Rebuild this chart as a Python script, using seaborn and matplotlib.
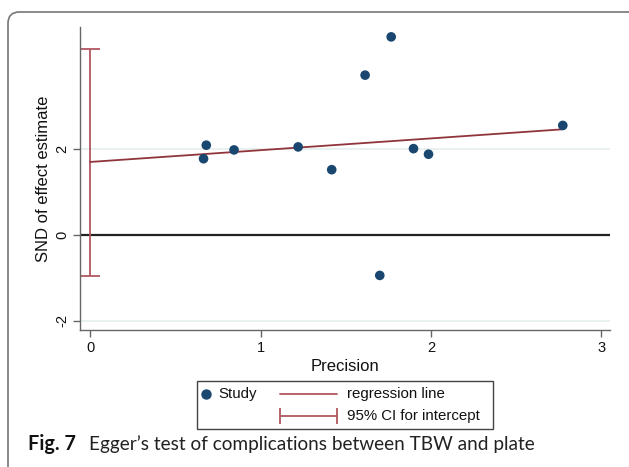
import matplotlib
matplotlib.use("Agg")
import matplotlib.pyplot as plt
import seaborn as sns
import pandas as pd
from matplotlib.lines import Line2D
from matplotlib.patches import FancyBboxPatch, Rectangle

# Data
precision = [0.665, 0.681, 0.844, 1.22, 1.417, 1.613, 1.699, 1.766, 1.897, 1.985, 2.773]
snd = [1.775, 2.09, 1.98, 2.05, 1.52, 3.72, -0.94, 4.61, 2.01, 1.88, 2.55]
reg_intercept = 1.70
reg_slope = 0.274
ci_low, ci_high = -0.946, 4.33
x_ticks = [0, 1, 2, 3]
y_ticks = [-2, 0, 2]
legend_labels = ['Study', 'regression line', '95% CI for intercept']

sns.set_theme(style="white")
plt.rcParams['font.family'] = ['Liberation Sans', 'DejaVu Sans']

W, H = 629, 467
fig = plt.figure(figsize=(W / 100, H / 100), dpi=100)
ax = fig.add_axes([80 / W, 1 - 330 / H, (610 - 80) / W, (330 - 27) / H])

def fx(px):
    return px / W

def fy(py):
    return 1 - py / H

navy = '#1a476f'
maroon = '#90353b'
ci_col = '#b0575e'

df = pd.DataFrame({'Precision': precision, 'SND': snd})

# gridlines
for yv in y_ticks:
    ax.axhline(yv, color='#e4eeee', lw=1.2, zorder=0)
ax.axhline(0, color='#222222', lw=1.6, zorder=1)

# CI for intercept
ci_mid = (ci_low + ci_high) / 2
ax.errorbar([0], [ci_mid], yerr=[[ci_mid - ci_low], [ci_high - ci_mid]], fmt='none',
            ecolor=ci_col, elinewidth=1.3, capsize=7, capthick=1.3, zorder=2)

# regression line
xmax = max(precision)
ax.plot([0, xmax], [reg_intercept, reg_intercept + reg_slope * xmax], color=maroon, lw=1.3, zorder=3)

sns.scatterplot(data=df, x='Precision', y='SND', ax=ax, color=navy, s=48,
                edgecolor='none', zorder=4, legend=False)

ax.set_xlim(-0.06, 3.05)
ax.set_ylim(-2.21, 4.84)
ax.set_xticks(x_ticks)
ax.set_yticks(y_ticks)
ax.set_xticklabels([str(t) for t in x_ticks], fontsize=10.5)
ax.set_yticklabels([str(t) for t in y_ticks], fontsize=10.5, rotation=90, va='center')
ax.tick_params(axis='both', direction='out', length=5, width=1, color='#666666', colors='#111111',
               left=True, bottom=True, pad=3)
ax.set_xlabel('Precision', fontsize=12, labelpad=3, color='#111111')
ax.set_ylabel('SND of effect estimate', fontsize=12, labelpad=3, color='#111111')
for s in ['top', 'right']:
    ax.spines[s].set_visible(False)
for s in ['left', 'bottom']:
    ax.spines[s].set_color('#666666')
    ax.spines[s].set_linewidth(1.0)

# legend (drawn as a keyed box below the plot)
fig.add_artist(Rectangle((fx(197), fy(429)), fx(493) - fx(197), fy(381) - fy(429),
                         transform=fig.transFigure, fill=True, facecolor='white',
                         edgecolor='#444444', lw=1.0))
fig.add_artist(Line2D([fx(206)], [fy(394)], transform=fig.transFigure, marker='o',
                      color=navy, markersize=6.5, linestyle='none'))
fig.text(fx(218), fy(394), legend_labels[0], fontsize=10.8, va='center', ha='left', color='#111111')
fig.add_artist(Line2D([fx(280), fx(337)], [fy(394), fy(394)], transform=fig.transFigure,
                      color=ci_col, lw=1.3))
fig.text(fx(347), fy(394), legend_labels[1], fontsize=10.8, va='center', ha='left', color='#111111')
fig.add_artist(Line2D([fx(280), fx(337)], [fy(416), fy(416)], transform=fig.transFigure,
                      color=ci_col, lw=1.3, marker='|', markersize=12, markeredgewidth=1.3))
fig.text(fx(347), fy(416), legend_labels[2], fontsize=10.8, va='center', ha='left', color='#111111')

# caption
cap_font = ['Lato', 'DejaVu Sans']
fig.text(fx(28), fy(450), 'Fig. 7', fontsize=14.3, fontweight='bold', family=cap_font,
         va='baseline', ha='left', color='#111111')
fig.text(fx(89), fy(450), 'Egger\u2019s test of complications between TBW and plate', fontsize=13.7,
         family=cap_font, va='baseline', ha='left', color='#222222')

# outer rounded frame
box = FancyBboxPatch((fx(8), fy(480)), 1.2, fy(12) - fy(480),
                     boxstyle='round,pad=0,rounding_size=0.018',
                     transform=fig.transFigure, fill=False, edgecolor='#777777', lw=1.2,
                     clip_on=False, mutation_aspect=W / H)
fig.patches.append(box)

fig.savefig('out.png', dpi=100)
